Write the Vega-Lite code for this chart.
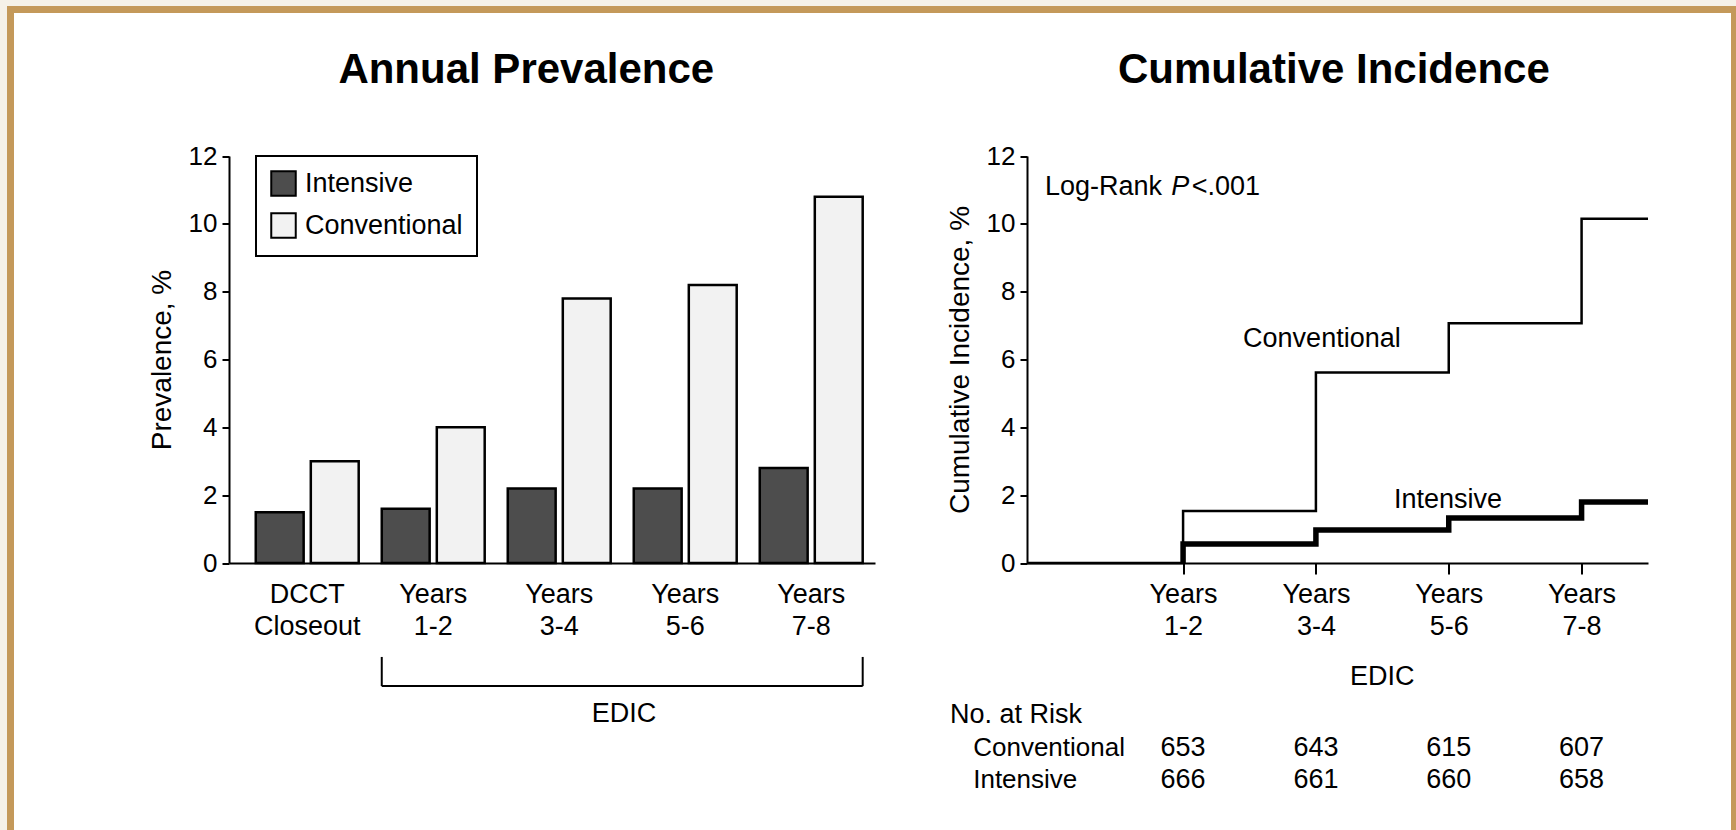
{
  "$schema": "https://vega.github.io/schema/vega-lite/v6.json",
  "width": 1724,
  "height": 820.5,
  "autosize": {"type": "none"},
  "padding": {"left": 10.5, "top": 9.5, "right": 1.5, "bottom": 0},
  "background": "#F5F1E8",
  "config": {
    "font": "Liberation Sans",
    "view": {"fill": "white", "stroke": "#C4995A", "strokeWidth": 7, "strokeDash": [2544.5, 1724, 820.5], "strokeCap": "square"},
    "axis": {"grid": false, "domainColor": "black", "domainWidth": 2, "tickColor": "black", "tickWidth": 2, "labelColor": "black", "titleColor": "black", "labelFont": "Liberation Sans", "titleFont": "Liberation Sans", "titleFontWeight": "normal", "labelFontSize": 26, "titleFontSize": 28},
    "text": {"font": "Liberation Sans", "fontSize": 27, "color": "black"},
    "legend": {"strokeWidth": 2}
  },
  "datasets": {
    "prev": [
      {"period": "DCCT Closeout", "group": "Intensive", "value": 1.5},
      {"period": "DCCT Closeout", "group": "Conventional", "value": 3.0},
      {"period": "Years 1-2", "group": "Intensive", "value": 1.6},
      {"period": "Years 1-2", "group": "Conventional", "value": 4.0},
      {"period": "Years 3-4", "group": "Intensive", "value": 2.2},
      {"period": "Years 3-4", "group": "Conventional", "value": 7.8},
      {"period": "Years 5-6", "group": "Intensive", "value": 2.2},
      {"period": "Years 5-6", "group": "Conventional", "value": 8.2},
      {"period": "Years 7-8", "group": "Intensive", "value": 2.8},
      {"period": "Years 7-8", "group": "Conventional", "value": 10.8}
    ],
    "bracket": [{"from": "Years 1-2", "to": "Years 7-8", "top": -2.77, "bottom": -3.63}],
    "leftTitle": [{"period": "Years 3-4", "y": 14.16, "label": "Annual Prevalence"}],
    "leftEdic": [{"period": "Years 3-4", "y": -4.45, "label": "EDIC"}],
    "km": [
      {"arm": "Conventional", "i": 0, "t": -0.35, "v": 0},
      {"arm": "Conventional", "i": 1, "t": 2, "v": 1.53},
      {"arm": "Conventional", "i": 2, "t": 4, "v": 5.62},
      {"arm": "Conventional", "i": 3, "t": 6, "v": 7.07},
      {"arm": "Conventional", "i": 4, "t": 8, "v": 10.15},
      {"arm": "Conventional", "i": 5, "t": 9, "v": 10.15},
      {"arm": "Intensive", "i": 0, "t": 2, "v": 0},
      {"arm": "Intensive", "i": 1, "t": 2, "v": 0.56},
      {"arm": "Intensive", "i": 2, "t": 4, "v": 0.97},
      {"arm": "Intensive", "i": 3, "t": 6, "v": 1.33},
      {"arm": "Intensive", "i": 4, "t": 8, "v": 1.8},
      {"arm": "Intensive", "i": 5, "t": 9, "v": 1.8}
    ],
    "rCenter": [
      {"label": "Conventional", "t": 4.09, "v": 6.61},
      {"label": "Intensive", "t": 5.99, "v": 1.86},
      {"label": "EDIC", "t": 5, "v": -3.36}
    ],
    "rLeft": [
      {"label": "Log-Rank", "t": -0.08, "v": 11.1},
      {"label": "<.001", "t": 2.13, "v": 11.1},
      {"label": "No. at Risk", "t": -1.51, "v": -4.48}
    ],
    "rItalic": [{"label": "P", "t": 1.82, "v": 11.1}],
    "riskLabels": [
      {"label": "Conventional", "t": -1.16, "v": -5.46},
      {"label": "Intensive", "t": -1.16, "v": -6.40}
    ],
    "riskNumbers": [
      {"arm": "Conventional", "t": 2, "v": -5.46, "n": 653},
      {"arm": "Conventional", "t": 4, "v": -5.46, "n": 643},
      {"arm": "Conventional", "t": 6, "v": -5.46, "n": 615},
      {"arm": "Conventional", "t": 8, "v": -5.46, "n": 607},
      {"arm": "Intensive", "t": 2, "v": -6.40, "n": 666},
      {"arm": "Intensive", "t": 4, "v": -6.40, "n": 661},
      {"arm": "Intensive", "t": 6, "v": -6.40, "n": 660},
      {"arm": "Intensive", "t": 8, "v": -6.40, "n": 658}
    ],
    "rTitle": [{"label": "Cumulative Incidence", "t": 4.27, "v": 14.16}]
  },
  "layer": [
    {
      "data": {"name": "prev"},
      "mark": {"type": "bar", "stroke": "black", "strokeWidth": 2.5},
      "encoding": {
        "x": {"field": "period", "type": "nominal", "sort": null,
          "scale": {"type": "band", "domain": ["DCCT Closeout", "Years 1-2", "Years 3-4", "Years 5-6", "Years 7-8"], "range": [218.5, 864.5], "paddingInner": 0.183, "paddingOuter": 0.155, "align": 0.685},
          "axis": {"orient": "bottom", "offset": -267, "ticks": false, "labelPadding": 18, "labelFontSize": 27, "labelLineHeight": 32, "labelBaseline": "top", "labelAngle": 0, "labelExpr": "split(datum.value, ' ')", "title": null}},
        "xOffset": {"field": "group", "type": "nominal", "sort": ["Intensive", "Conventional"], "scale": {"domain": ["Intensive", "Conventional"], "paddingInner": 0.13, "paddingOuter": 0}},
        "y": {"field": "value", "type": "quantitative",
          "scale": {"domain": [0, 12], "range": [553.5, 146.5], "nice": false, "zero": false},
          "axis": {"orient": "left", "offset": -218.5, "values": [0, 2, 4, 6, 8, 10, 12], "title": "Prevalence, %", "tickSize": 7, "labelPadding": 5, "titlePadding": 12}},
        "color": {"field": "group", "type": "nominal",
          "scale": {"domain": ["Intensive", "Conventional"], "range": ["#4d4d4d", "#f2f2f2"]},
          "legend": {"title": null, "orient": "none", "legendX": 245.5, "legendY": 146.5, "direction": "vertical", "symbolType": "square", "symbolSize": 600, "symbolStrokeColor": "black", "symbolStrokeWidth": 2, "labelFontSize": 27, "labelFont": "Liberation Sans", "labelColor": "black", "labelLimit": 400, "strokeColor": "black", "fillColor": "white", "padding": 14, "rowPadding": 9, "labelOffset": 8}}
      }
    },
    {
      "data": {"name": "bracket"},
      "mark": {"type": "rule", "color": "black", "strokeWidth": 2},
      "encoding": {
        "x": {"field": "from", "type": "nominal", "bandPosition": 0, "axis": null,
          "scale": {"type": "band", "domain": ["DCCT Closeout", "Years 1-2", "Years 3-4", "Years 5-6", "Years 7-8"], "range": [218.5, 864.5], "paddingInner": 0.183, "paddingOuter": 0.155, "align": 0.685}},
        "y": {"field": "top", "type": "quantitative", "axis": null, "scale": {"domain": [0, 12], "range": [553.5, 146.5], "nice": false, "zero": false}},
        "y2": {"field": "bottom"}
      }
    },
    {
      "data": {"name": "bracket"},
      "mark": {"type": "rule", "color": "black", "strokeWidth": 2},
      "encoding": {
        "x": {"field": "to", "type": "nominal", "bandPosition": 1, "axis": null,
          "scale": {"type": "band", "domain": ["DCCT Closeout", "Years 1-2", "Years 3-4", "Years 5-6", "Years 7-8"], "range": [218.5, 864.5], "paddingInner": 0.183, "paddingOuter": 0.155, "align": 0.685}},
        "y": {"field": "top", "type": "quantitative", "axis": null, "scale": {"domain": [0, 12], "range": [553.5, 146.5], "nice": false, "zero": false}},
        "y2": {"field": "bottom"}
      }
    },
    {
      "data": {"name": "bracket"},
      "mark": {"type": "rule", "color": "black", "strokeWidth": 2},
      "encoding": {
        "x": {"field": "from", "type": "nominal", "bandPosition": 0, "axis": null,
          "scale": {"type": "band", "domain": ["DCCT Closeout", "Years 1-2", "Years 3-4", "Years 5-6", "Years 7-8"], "range": [218.5, 864.5], "paddingInner": 0.183, "paddingOuter": 0.155, "align": 0.685}},
        "x2": {"field": "to", "bandPosition": 1},
        "y": {"field": "bottom", "type": "quantitative", "axis": null, "scale": {"domain": [0, 12], "range": [553.5, 146.5], "nice": false, "zero": false}}
      }
    },
    {
      "data": {"name": "leftEdic"},
      "mark": {"type": "text", "align": "center", "baseline": "middle", "fontSize": 27},
      "encoding": {
        "x": {"field": "period", "type": "nominal", "bandPosition": 1.13, "axis": null,
          "scale": {"type": "band", "domain": ["DCCT Closeout", "Years 1-2", "Years 3-4", "Years 5-6", "Years 7-8"], "range": [218.5, 864.5], "paddingInner": 0.183, "paddingOuter": 0.155, "align": 0.685}},
        "y": {"field": "y", "type": "quantitative", "axis": null, "scale": {"domain": [0, 12], "range": [553.5, 146.5], "nice": false, "zero": false}},
        "text": {"field": "label"}
      }
    },
    {
      "data": {"name": "leftTitle"},
      "mark": {"type": "text", "align": "center", "baseline": "alphabetic", "fontSize": 42, "fontWeight": "bold"},
      "encoding": {
        "x": {"field": "period", "type": "nominal", "bandPosition": 0.18, "axis": null,
          "scale": {"type": "band", "domain": ["DCCT Closeout", "Years 1-2", "Years 3-4", "Years 5-6", "Years 7-8"], "range": [218.5, 864.5], "paddingInner": 0.183, "paddingOuter": 0.155, "align": 0.685}},
        "y": {"field": "y", "type": "quantitative", "axis": null, "scale": {"domain": [0, 12], "range": [553.5, 146.5], "nice": false, "zero": false}},
        "text": {"field": "label"}
      }
    },
    {
      "data": {"name": "km"},
      "transform": [{"filter": "datum.arm == 'Conventional'"}],
      "mark": {"type": "line", "interpolate": "step-after", "color": "black", "strokeWidth": 2.5, "strokeCap": "butt"},
      "encoding": {
        "x": {"field": "t", "type": "quantitative",
          "scale": {"domain": [-0.35, 9], "range": [1016.5, 1637.5], "nice": false, "zero": false},
          "axis": {"orient": "bottom", "offset": -267, "values": [2, 4, 6, 8], "tickSize": 11, "labelPadding": 7, "labelFontSize": 27, "labelLineHeight": 32, "labelBaseline": "top", "labelFlush": false, "labelExpr": "['Years', (datum.value - 1) + '-' + datum.value]", "title": null}},
        "y": {"field": "v", "type": "quantitative",
          "scale": {"domain": [0, 12], "range": [553.5, 146.5], "nice": false, "zero": false},
          "axis": {"orient": "left", "offset": -1016.5, "values": [0, 2, 4, 6, 8, 10, 12], "title": "Cumulative Incidence, %", "tickSize": 7, "labelPadding": 5, "titlePadding": 12}},
        "order": {"field": "i"}
      }
    },
    {
      "data": {"name": "km"},
      "transform": [{"filter": "datum.arm == 'Intensive'"}],
      "mark": {"type": "line", "interpolate": "step-after", "color": "black", "strokeWidth": 5.5, "strokeCap": "butt"},
      "encoding": {
        "x": {"field": "t", "type": "quantitative", "axis": null, "scale": {"domain": [-0.35, 9], "range": [1016.5, 1637.5], "nice": false, "zero": false}},
        "y": {"field": "v", "type": "quantitative", "axis": null, "scale": {"domain": [0, 12], "range": [553.5, 146.5], "nice": false, "zero": false}},
        "order": {"field": "i"}
      }
    },
    {
      "data": {"name": "rCenter"},
      "mark": {"type": "text", "align": "center", "baseline": "middle", "fontSize": 27},
      "encoding": {
        "x": {"field": "t", "type": "quantitative", "axis": null, "scale": {"domain": [-0.35, 9], "range": [1016.5, 1637.5], "nice": false, "zero": false}},
        "y": {"field": "v", "type": "quantitative", "axis": null, "scale": {"domain": [0, 12], "range": [553.5, 146.5], "nice": false, "zero": false}},
        "text": {"field": "label"}
      }
    },
    {
      "data": {"name": "rLeft"},
      "mark": {"type": "text", "align": "left", "baseline": "middle", "fontSize": 27},
      "encoding": {
        "x": {"field": "t", "type": "quantitative", "axis": null, "scale": {"domain": [-0.35, 9], "range": [1016.5, 1637.5], "nice": false, "zero": false}},
        "y": {"field": "v", "type": "quantitative", "axis": null, "scale": {"domain": [0, 12], "range": [553.5, 146.5], "nice": false, "zero": false}},
        "text": {"field": "label"}
      }
    },
    {
      "data": {"name": "rItalic"},
      "mark": {"type": "text", "align": "left", "baseline": "middle", "fontSize": 27, "fontStyle": "italic"},
      "encoding": {
        "x": {"field": "t", "type": "quantitative", "axis": null, "scale": {"domain": [-0.35, 9], "range": [1016.5, 1637.5], "nice": false, "zero": false}},
        "y": {"field": "v", "type": "quantitative", "axis": null, "scale": {"domain": [0, 12], "range": [553.5, 146.5], "nice": false, "zero": false}},
        "text": {"field": "label"}
      }
    },
    {
      "data": {"name": "riskLabels"},
      "mark": {"type": "text", "align": "left", "baseline": "middle", "fontSize": 26},
      "encoding": {
        "x": {"field": "t", "type": "quantitative", "axis": null, "scale": {"domain": [-0.35, 9], "range": [1016.5, 1637.5], "nice": false, "zero": false}},
        "y": {"field": "v", "type": "quantitative", "axis": null, "scale": {"domain": [0, 12], "range": [553.5, 146.5], "nice": false, "zero": false}},
        "text": {"field": "label"}
      }
    },
    {
      "data": {"name": "riskNumbers"},
      "mark": {"type": "text", "align": "center", "baseline": "middle", "fontSize": 27},
      "encoding": {
        "x": {"field": "t", "type": "quantitative", "axis": null, "scale": {"domain": [-0.35, 9], "range": [1016.5, 1637.5], "nice": false, "zero": false}},
        "y": {"field": "v", "type": "quantitative", "axis": null, "scale": {"domain": [0, 12], "range": [553.5, 146.5], "nice": false, "zero": false}},
        "text": {"field": "n", "type": "quantitative", "format": "d"}
      }
    },
    {
      "data": {"name": "rTitle"},
      "mark": {"type": "text", "align": "center", "baseline": "alphabetic", "fontSize": 42, "fontWeight": "bold"},
      "encoding": {
        "x": {"field": "t", "type": "quantitative", "axis": null, "scale": {"domain": [-0.35, 9], "range": [1016.5, 1637.5], "nice": false, "zero": false}},
        "y": {"field": "v", "type": "quantitative", "axis": null, "scale": {"domain": [0, 12], "range": [553.5, 146.5], "nice": false, "zero": false}},
        "text": {"field": "label"}
      }
    }
  ],
  "resolve": {"scale": {"x": "independent", "y": "independent"}, "axis": {"x": "independent", "y": "independent"}}
}
